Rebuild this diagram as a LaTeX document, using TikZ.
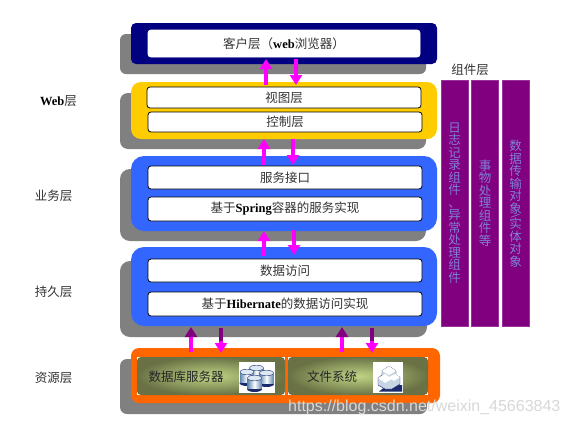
\documentclass[tikz,border=0pt]{standalone}
\usepackage{fontspec}
\setmainfont{Liberation Serif}
\newfontfamily\cjk{Noto Sans CJK SC}
\newfontfamily\wm{Liberation Sans}
\newfontfamily\latf{Liberation Serif}
\usetikzlibrary{arrows.meta,shadings}
\definecolor{navyc}{HTML}{000080}
\definecolor{goldc}{HTML}{FFCC00}
\definecolor{bluec}{HTML}{3366FF}
\definecolor{orangec}{HTML}{FF6600}
\definecolor{greyc}{HTML}{808080}
\definecolor{purplec}{HTML}{800080}
\definecolor{magc}{HTML}{FF00FF}
\definecolor{txtc}{HTML}{333333}
\definecolor{coltxt}{HTML}{8080D8}
\definecolor{gdark}{HTML}{6A7245}
\definecolor{glight}{HTML}{BFD585}
\definecolor{cylside}{HTML}{5E88B0}
\definecolor{cyltop}{HTML}{DCE8F2}
\definecolor{cubeside}{HTML}{C8D6E4}
\definecolor{icondark}{HTML}{1A2A6C}
\definecolor{markc}{HTML}{D8D8D8}
\newcommand{\lat}[1]{{\latf\bfseries\color{black}#1}}
\tikzset{
  x=1pt,y=-1pt,
  panel/.style={draw=none,inner sep=0,rounded corners=#1},
  inbox/.style={draw=black,fill=white,line width=0.8pt,rounded corners=3pt,inner sep=0,text=txtc,font=\cjk\fontsize{12.5}{14}\selectfont,minimum width=274pt},
  lbl/.style={inner sep=0,text=txtc,font=\cjk\fontsize{12.5}{14}\selectfont},
  col/.style={fill=purplec,draw=purplec!80!white,line width=0.5pt,inner sep=0,minimum width=27pt,minimum height=246pt,text=coltxt,align=center,font=\cjk\fontsize{12.5}{12.5}\selectfont},
  biarrow/.style={draw=magc,line width=4pt,-{Triangle[width=12pt,length=10pt]}},
  dbarrow/.style={draw=magc,line width=4pt,-{Triangle[width=12pt,length=10pt,color=purplec]}},
  stem/.style={draw=purplec,line width=4pt},
  green/.style={inner sep=0,rounded corners=4pt,inner color=glight,outer color=gdark},
  greentxt/.style={inner sep=0,text=black!85,font=\cjk\fontsize{12.5}{14}\selectfont},
}
\begin{document}
\begin{tikzpicture}
\useasboundingbox[fill=white] (0,0) rectangle (570,426);
% shadows
\fill[greyc,rounded corners=6pt] (120,34) rectangle (426,74);
\fill[greyc,rounded corners=8pt] (120,93) rectangle (426,149);
\fill[greyc,rounded corners=10pt] (120,169) rectangle (426,241);
\fill[greyc,rounded corners=10pt] (120,261) rectangle (427,337);
\fill[greyc,rounded corners=7pt] (120,359) rectangle (427,414);
% panels
\node[panel=5pt,fill=navyc,minimum width=306pt,minimum height=41pt] (client) at (284,43.5) {};
\node[panel=10pt,fill=goldc,minimum width=306pt,minimum height=57pt] (web) at (284,110.5) {};
\node[panel=13pt,fill=bluec,minimum width=306pt,minimum height=75pt] (biz) at (284,193.5) {};
\node[panel=13pt,fill=bluec,minimum width=306pt,minimum height=79pt] (dao) at (284,286.5) {};
\node[panel=8pt,fill=orangec,minimum width=309pt,minimum height=55pt] (res) at (285.5,375.5) {};
% inner boxes
\node[inbox,draw=white,minimum width=272pt,minimum height=27pt] (browser) at (284,43.5) {客户层（\lat{web}浏览器）};
\node[inbox,minimum height=21pt] (view) at (284,97.5) {视图层};
\node[inbox,minimum height=20pt] (ctrl) at (285,122) {控制层};
\node[inbox,minimum height=23pt] (svc) at (285,177.5) {服务接口};
\node[inbox,minimum height=24pt] (impl) at (285,209) {基于\lat{Spring}容器的服务实现};
\node[inbox,minimum height=23pt] (acc) at (285,270.5) {数据访问};
\node[inbox,minimum height=24pt] (hib) at (285,304) {基于\lat{Hibernate}的数据访问实现};
% resource boxes
\fill[white] (137,357) rectangle (285,395);
\fill[white] (288,357) rectangle (428,395);
\node[green,minimum width=148pt,minimum height=38pt] (db) at (211,376) {};
\node[green,minimum width=140pt,minimum height=38pt] (fs) at (358,376) {};
\node[greentxt] (dbt) at (186,377) {数据库服务器};
\node[greentxt] (fst) at (332,377) {文件系统};
% icons
\node[fill=white,inner sep=0,minimum width=36pt,minimum height=31pt] (dbi) at (257,377.5) {};
\node[fill=white,inner sep=0,minimum width=30pt,minimum height=31pt] (fsi) at (388,377.5) {};
\foreach \cx/\cy in {256.5/368,247/372,266.5/373,254.5/378}{
  \fill[icondark] (\cx,\cy+11) ellipse [x radius=7.5,y radius=3];
  \shade[left color=cylside,right color=cylside,middle color=white] (\cx-7,\cy) rectangle (\cx+7,\cy+10);
  \fill[cyltop,draw=icondark,line width=.4pt] (\cx,\cy) ellipse [x radius=7,y radius=2.8];
}
\fill[icondark] (379,391.5) -- (402,391.5) -- (402,385) -- (386,386) -- cycle;
\fill[cubeside,draw=icondark,line width=.4pt]
  (382,371) -- (389,366) -- (396,371) -- (396,375) -- (400,377) -- (400,384) -- (392,389) -- (385,389) -- (378,385) -- (378,378) -- (382,375) -- cycle;
\fill[white] (382,371) -- (389,366) -- (396,371) -- (389,375) -- cycle;
\fill[white] (378,378) -- (385,374) -- (392,379) -- (385,383) -- cycle;
\fill[white] (389,377) -- (395,374) -- (400,377) -- (394,381) -- cycle;
% connectors
\coordinate (a1t) at (266,59); \coordinate (a1b) at (266,85);
\coordinate (a2t) at (296,59); \coordinate (a2b) at (296,85);
\coordinate (a3t) at (264,139); \coordinate (a3b) at (264,165);
\coordinate (a4t) at (293,139); \coordinate (a4b) at (293,165);
\coordinate (a5t) at (264,231); \coordinate (a5b) at (264,256);
\coordinate (a6t) at (294,230); \coordinate (a6b) at (294,255);
\coordinate (b1t) at (191,327); \coordinate (b1b) at (191,352);
\coordinate (b2t) at (221,328); \coordinate (b2m) at (221,341); \coordinate (b2b) at (221,353);
\coordinate (b3t) at (342,327); \coordinate (b3b) at (342,352);
\coordinate (b4t) at (372,328); \coordinate (b4m) at (372,341); \coordinate (b4b) at (372,353);
\draw[biarrow] (a1b) -- (a1t);
\draw[biarrow] (a2t) -- (a2b);
\draw[biarrow] (a3b) -- (a3t);
\draw[biarrow] (a4t) -- (a4b);
\draw[biarrow] (a5b) -- (a5t);
\draw[biarrow] (a6t) -- (a6b);
\draw[dbarrow] (b1b) -- (b1t);
\draw[dbarrow] (b3b) -- (b3t);
\draw[biarrow] (b2t) -- (b2b);
\draw[biarrow] (b4t) -- (b4b);
\draw[stem] (b2t) -- (b2m);
\draw[stem] (b4t) -- (b4m);
% component columns
\node[lbl] (comp) at (470,70) {组件层};
\node[col] (c1) at (454.5,203) {日\\志\\记\\录\\组\\件\\、\\异\\常\\处\\理\\组\\件};
\node[col] (c2) at (485,203) {事\\物\\处\\理\\组\\件\\等};
\node[col] (c3) at (515.5,203.5) {数\\据\\传\\输\\对\\象\\[-6pt]\raisebox{2pt}[0pt][0pt]{\latf\bfseries\fontsize{13}{13}\selectfont\rotatebox{-50}{/}}\\[-3.5pt]实\\体\\对\\象};
% left labels
\node[lbl] (lweb) at (58.5,101) {\lat{Web}层};
\node[lbl] (lbiz) at (53.5,196) {业务层};
\node[lbl] (ldao) at (53.5,292) {持久层};
\node[lbl] (lres) at (53.5,378) {资源层};
% watermark
\node[inner sep=0,anchor=west,text=markc,font=\wm\fontsize{16}{18}\selectfont] (mark) at (288,407) {https://blog.csdn.net/weixin\_45663843};
\end{tikzpicture}
\end{document}
